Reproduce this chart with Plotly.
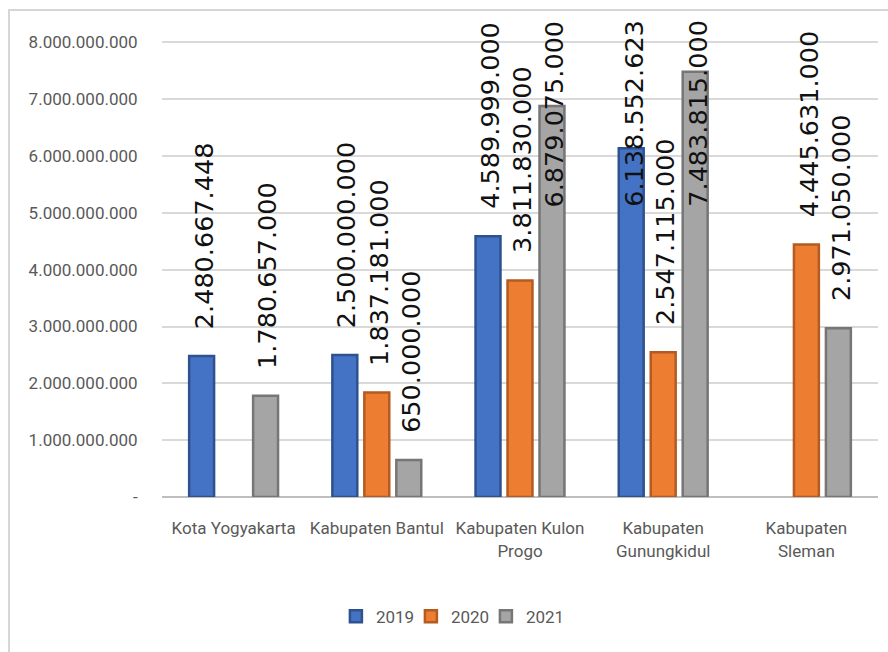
import plotly.graph_objects as go

# Regional values per year (Rupiah)
categories = [
    "Kota Yogyakarta",
    "Kabupaten Bantul",
    "Kabupaten Kulon Progo",
    "Kabupaten Gunungkidul",
    "Kabupaten Sleman",
]
category_labels = [
    "Kota Yogyakarta",
    "Kabupaten Bantul",
    "Kabupaten Kulon<br>Progo",
    "Kabupaten<br>Gunungkidul",
    "Kabupaten<br>Sleman",
]
years = ["2019", "2020", "2021"]
values_2019 = [2480667448, 2500000000, 4589999000, 6138552623, None]
values_2020 = [None, 1837181000, 3811830000, 2547115000, 4445631000]
values_2021 = [1780657000, 650000000, 6879075000, 7483815000, 2971050000]

y_tick_values = [0, 1e9, 2e9, 3e9, 4e9, 5e9, 6e9, 7e9, 8e9]
y_tick_labels = ["-", "1.000.000.000", "2.000.000.000", "3.000.000.000",
                 "4.000.000.000", "5.000.000.000", "6.000.000.000",
                 "7.000.000.000", "8.000.000.000"]

series = [values_2019, values_2020, values_2021]
fill_colors = ["#4472C4", "#ED7D31", "#A5A5A5"]
edge_colors = ["#2F528F", "#B35B22", "#767676"]

# Layout geometry (pixels)
W, H = 888, 652
M_L, M_R, M_T, M_B = 162, 10, 18, 155
Y_MAX = 8.43e9
BARGAP, BARGROUPGAP = 0.33, 0.22
LABEL_FONT = 25.5
LABEL_GAP = 25

plot_w = W - M_L - M_R
plot_h = H - M_T - M_B
px_per_unit = plot_h / Y_MAX
slot_px = plot_w / len(categories) * (1 - BARGAP) / len(series)


def fmt(v):
    return f"{v:,}".replace(",", ".")


def label_len_px(text):
    # DejaVu Sans advance widths: digits 0.636em, period 0.318em
    return sum(0.636 if c.isdigit() else 0.318 for c in text) * LABEL_FONT


fig = go.Figure()
for name, vals, fc, ec in zip(years, series, fill_colors, edge_colors):
    fig.add_trace(go.Bar(
        name=name,
        x=categories,
        y=vals,
        marker=dict(color=fc, line=dict(color=ec, width=2.5)),
        hoverinfo="x+y+name",
    ))

annotations = []
for i, vals in enumerate(series):
    for cat, v in zip(categories, vals):
        if v is None:
            continue
        text = fmt(v)
        room = plot_h - v * px_per_unit - LABEL_GAP
        common = dict(
            x=cat, xref="x", xshift=(i - 1) * slot_px + 2,
            text=text, textangle=-90, showarrow=False,
            font=dict(family="DejaVu Sans", size=LABEL_FONT, color="#111111"),
        )
        if label_len_px(text) > room:
            annotations.append(dict(y=1, yref="paper", yanchor="top", **common))
        else:
            annotations.append(dict(y=v, yref="y", yanchor="bottom",
                                    yshift=LABEL_GAP, **common))

# light frame around the chart area
frame = dict(
    type="rect", xref="paper", yref="paper",
    x0=(9 - M_L) / plot_w, x1=1.2,
    y0=-0.6, y1=(H - M_B - 10) / plot_h,
    line=dict(color="#d6d6d6", width=2), fillcolor="rgba(0,0,0,0)",
    layer="below",
)

fig.update_layout(
    width=W, height=H,
    margin=dict(l=M_L, r=M_R, t=M_T, b=M_B),
    paper_bgcolor="white", plot_bgcolor="white",
    barmode="group", bargap=BARGAP, bargroupgap=BARGROUPGAP,
    annotations=annotations,
    shapes=[frame],
    showlegend=True,
    legend=dict(
        orientation="h", x=0.40, xanchor="center", y=-0.25, yanchor="middle",
        font=dict(family="Roboto", size=17, color="#595959"),
        itemwidth=30, traceorder="normal",
        entrywidth=30, entrywidthmode="pixels",
    ),
    xaxis=dict(
        tickmode="array", tickvals=categories, ticktext=category_labels,
        tickfont=dict(family="Roboto", size=17, color="#595959"),
        ticks="outside", ticklen=16, tickcolor="rgba(0,0,0,0)",
        showline=False, showgrid=False, zeroline=False,
    ),
    yaxis=dict(
        range=[0, Y_MAX],
        tickmode="array", tickvals=y_tick_values, ticktext=y_tick_labels,
        tickfont=dict(family="Roboto", size=17, color="#595959"),
        ticks="outside", ticklen=20, tickcolor="rgba(0,0,0,0)",
        showgrid=True, gridcolor="#d9d9d9", gridwidth=1.5,
        zeroline=True, zerolinecolor="#bfbfbf", zerolinewidth=1.5,
        showline=False,
    ),
)

fig.write_html("out.html")
